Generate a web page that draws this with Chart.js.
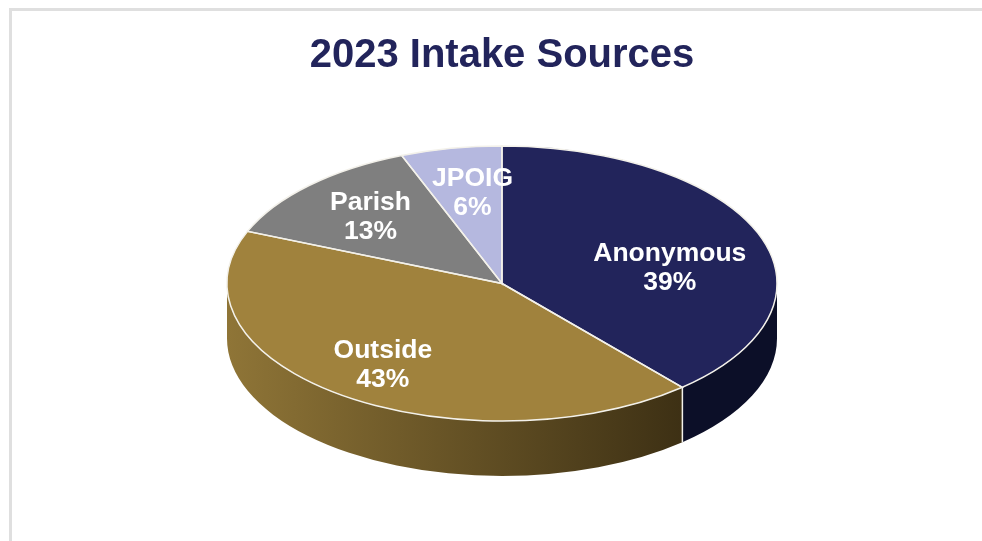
<!DOCTYPE html>
<html>
<head>
<meta charset="utf-8">
<title>2023 Intake Sources</title>
<script src="https://cdn.jsdelivr.net/npm/chart.js@4"></script>
<style>
  html, body { margin: 0; padding: 0; background: #fff; overflow: hidden; }
  #frame { position: absolute; left: 9px; top: 8px; right: -10px; bottom: -10px; border: 3px solid #dfdfdf; }
  #wrap { position: absolute; left: 0; top: 0; width: 982px; height: 541px; }
</style>
</head>
<body>
<div id="frame"></div>
<div id="wrap"><canvas id="myChart" width="982" height="541"></canvas></div>
<script>
let labels1 = ['Anonymous', 'Outside', 'Parish', 'JPOIG'];
let data1 = [39, 43, 13, 6];
let colors1 = ['#22245b', '#a0823d', '#7f7f7f', '#b5b8df'];

// side wall shading, left to right
let sideLeft = ['#0c0f28', '#8f7537', '#555555', '#7d80a0'];
let sideRight = ['#0c0f28', '#3d3014', '#555555', '#7d80a0'];

// label shift away from the middle of each slice
let labelShiftX = [39, -39, -35, -4];
let labelShiftY = [9, 26, -17, -23];

const squash = 0.5;
const depth = 55;

function wallPath(ctx, arc, from, to) {
    let rx = arc.outerRadius, ry = rx * squash;
    ctx.beginPath();
    ctx.ellipse(arc.x, arc.y, rx, ry, 0, from, to);
    ctx.ellipse(arc.x, arc.y + depth, rx, ry, 0, to, from, true);
    ctx.closePath();
}

const tiltPlugin = {
    id: 'tilt',
    beforeDatasetsDraw(chart) {
        const ctx = chart.ctx;
        const arcs = chart.getDatasetMeta(0).data;

        // only the part of the rim facing the viewer shows
        arcs.forEach((arc, i) => {
            let from = Math.max(arc.startAngle, 0);
            let to = Math.min(arc.endAngle, Math.PI);
            if (to <= from) return;
            let grad = ctx.createLinearGradient(arc.x - arc.outerRadius, 0, arc.x + arc.outerRadius * 0.66, 0);
            grad.addColorStop(0, sideLeft[i]);
            grad.addColorStop(1, sideRight[i]);
            wallPath(ctx, arc, from, to);
            ctx.fillStyle = grad;
            ctx.fill();
        });

        ctx.save();
        ctx.translate(0, arcs[0].y);
        ctx.scale(1, squash);
        ctx.translate(0, -arcs[0].y);
    },
    afterDatasetsDraw(chart) {
        const ctx = chart.ctx;
        ctx.restore();
        const arcs = chart.getDatasetMeta(0).data;

        arcs.forEach((arc) => {
            let rx = arc.outerRadius, ry = rx * squash;
            ctx.beginPath();
            ctx.moveTo(arc.x, arc.y);
            ctx.ellipse(arc.x, arc.y, rx, ry, 0, arc.startAngle, arc.endAngle);
            ctx.closePath();
            ctx.strokeStyle = '#f3f1ea';
            ctx.lineWidth = 1.5;
            ctx.stroke();

            // seam between two slices on the rim
            if (arc.endAngle > 0 && arc.endAngle < Math.PI) {
                let px = arc.x + Math.cos(arc.endAngle) * rx;
                let py = arc.y + Math.sin(arc.endAngle) * ry;
                ctx.beginPath();
                ctx.moveTo(px, py);
                ctx.lineTo(px, py + depth);
                ctx.stroke();
            }
        });

        ctx.fillStyle = '#ffffff';
        ctx.font = 'bold 26.5px "Liberation Sans", Arial, sans-serif';
        ctx.textAlign = 'center';
        ctx.textBaseline = 'middle';
        arcs.forEach((arc, i) => {
            let mid = (arc.startAngle + arc.endAngle) / 2;
            let lx = arc.x + Math.cos(mid) * arc.outerRadius / 2 + labelShiftX[i];
            let ly = arc.y + Math.sin(mid) * arc.outerRadius * squash / 2 + labelShiftY[i];
            ctx.fillText(labels1[i], lx, ly - 14.5);
            ctx.fillText(data1[i] + '%', lx, ly + 14.5);
        });
    }
};

let intakeChart = new Chart(document.getElementById('myChart').getContext('2d'), {
    type: 'pie',
    data: {
        labels: labels1,
        datasets: [{
            data: data1,
            backgroundColor: colors1,
            borderWidth: 0,
            radius: 275,
            clip: false
        }]
    },
    options: {
        responsive: false,
        animation: false,
        layout: {
            padding: { left: 22, bottom: 64 }
        },
        plugins: {
            legend: { display: false },
            tooltip: { enabled: false },
            title: {
                display: true,
                text: '2023 Intake Sources',
                color: '#22245b',
                font: { family: '"Liberation Sans", Arial, sans-serif', size: 40, weight: 'bold' },
                padding: { top: 32, bottom: 10 }
            }
        }
    },
    plugins: [tiltPlugin]
});
</script>
</body>
</html>
